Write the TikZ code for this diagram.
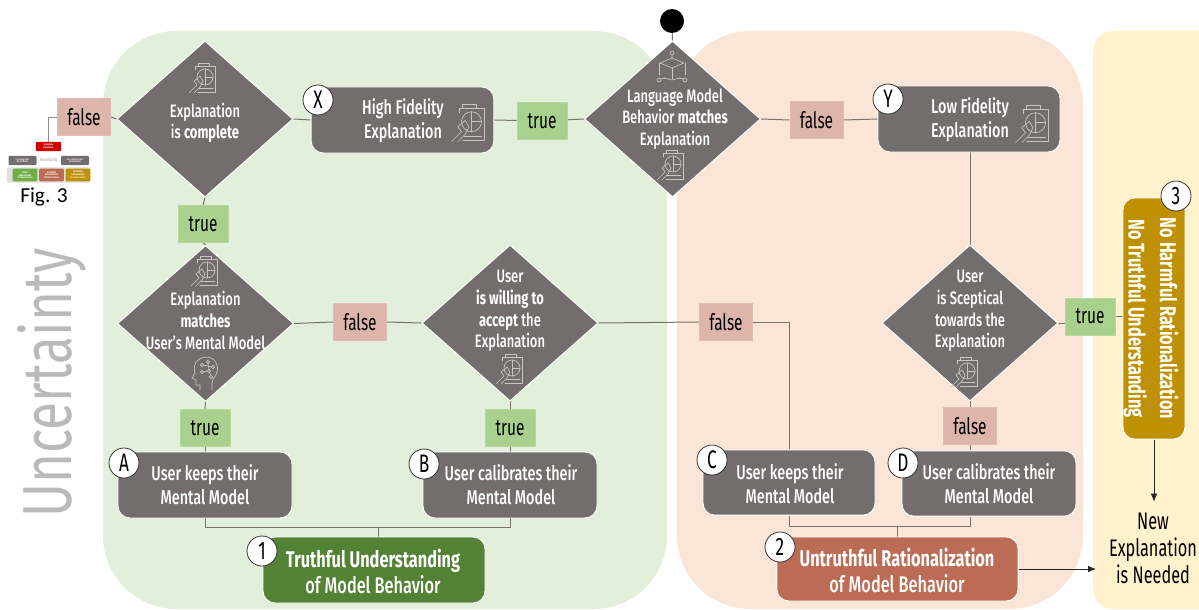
\documentclass[tikz,border=0pt]{standalone}
\usepackage{fontspec}
\setmainfont[FakeStretch=0.72,UprightFont={* Medium},BoldFont={* Bold}]{Fira Sans}
\newfontfamily\figfont{Carlito}
\newfontfamily\tagfont[FakeStretch=0.68]{Fira Sans}
\newfontfamily\bigfont[FakeStretch=0.74]{Fira Sans}
\usetikzlibrary{shapes.geometric,arrows.meta,backgrounds}
\definecolor{greenpanel}{HTML}{E2EFDA}
\definecolor{orangepanel}{HTML}{FBE5D6}
\definecolor{yellowpanel}{HTML}{FFF2CC}
\definecolor{shapegrey}{HTML}{736E6D}
\definecolor{linegrey}{HTML}{77756C}
\definecolor{truefill}{HTML}{A9D18E}
\definecolor{falsefill}{HTML}{DDB5AB}
\definecolor{truthgreen}{HTML}{548235}
\definecolor{thumbgreen}{HTML}{70AD47}
\definecolor{untruth}{HTML}{BC6C55}
\definecolor{gold}{HTML}{BF9000}
\definecolor{iconline}{HTML}{C8C6C4}
\tikzset{
  decision/.style={shape=diamond,fill=shapegrey,draw=white,line width=0.7pt,inner sep=0pt,minimum width=132pt,minimum height=117pt},
  stepbox/.style={fill=shapegrey,draw=white,line width=0.7pt,rounded corners=9pt,inner sep=0pt},
  resultbox/.style={draw=white,line width=0.7pt,rounded corners=9pt,inner sep=0pt},
  txt/.style={text=white,align=center,inner sep=0pt,font=\fontsize{13.5}{16.2}\selectfont},
  boxtxt/.style={text=white,align=center,inner sep=0pt,font=\fontsize{15}{18}\selectfont},
  restxt/.style={text=white,align=center,inner sep=0pt,font=\fontsize{17}{20}\selectfont},
  tagtrue/.style={fill=truefill,draw=truefill!85!white,minimum width=37.5pt,minimum height=27.5pt,inner sep=0pt,font=\tagfont\fontsize{17}{18}\selectfont,text=black},
  tagfalse/.style={fill=falsefill,draw=falsefill!90!white,minimum width=40pt,minimum height=27.5pt,inner sep=0pt,font=\tagfont\fontsize{17}{18}\selectfont,text=black},
  badge/.style={circle,fill=white,draw=black!80,line width=0.6pt,minimum size=22.5pt,inner sep=0pt,font=\tagfont\fontsize{19}{20}\selectfont,text=black},
  conn/.style={draw=linegrey,line width=0.75pt},
  connarrow/.style={draw=black!85,line width=0.7pt,-{Latex[length=6pt,width=5pt]}},
  thumb/.style={rounded corners=0.8pt,inner sep=0pt,text=white,align=center,font=\fontsize{1.9}{2.2}\selectfont},
  clipicon/.pic={
    \begin{scope}[draw=iconline,line width=0.5pt,line cap=round,line join=round]
      \draw (-8,-8) -- (-8,-12) -- (12,-12) -- (12,14) -- (-5,14);
      \draw (-5,-15) rectangle (6,-12);
      \draw (2,-1) circle (8);
      \draw (2,-9) -- (2,-1) -- (10,-1);
      \draw (2,-1) -- (2,7);
      \draw (-14,15) -- (-6,7) -- (-9,3) -- (-3,-2) -- (0,3) -- (-3,9) -- (-9,15);
      \draw (-4,10.5) -- (10,10.5);
    \end{scope}
  },
  cubeicon/.pic={
    \begin{scope}[draw=iconline,line width=0.5pt,line cap=round,line join=round]
      \draw (0,-13) circle (2) (0,-11) -- (0,-7);
      \draw (-12,-3) -- (0,-8) -- (12,-3) -- (0,2) -- cycle;
      \draw (-13,-3) -- (-13,9) (13,-3) -- (13,9) (0,2) -- (0,13);
      \draw (-8,12) -- (0,14) -- (8,12);
      \draw (-13,14) circle (2) (13,14) circle (2);
      \draw (-11.5,13) -- (-7,12) (11.5,13) -- (7,12);
    \end{scope}
  },
  brainicon/.pic={
    \begin{scope}[draw=iconline,line width=0.5pt,line cap=round,line join=round]
      \draw (-5,17) -- (-5,12) -- (-9,12) -- (-9,7) -- (-13,5) -- (-10,0)
        .. controls (-13,-10) and (-6,-16) .. (1,-16)
        .. controls (10,-16) and (14,-8) .. (12,-1)
        .. controls (11,4) and (7,6) .. (7,10) -- (7,17);
      \draw (-3,-8) circle (1.6) (3,-11) circle (1.6) (8,-6) circle (1.6) (-3,-1) circle (1.6) (4,-2) circle (1.6) (6,4) circle (1.6);
      \draw (-1.5,-8) -- (6.5,-6) (3,-9.5) -- (4,-3.5) (-1.5,-1) -- (2.5,-2) (4.5,-0.5) -- (6,2.5);
    \end{scope}
  }
}
\begin{document}
\begin{tikzpicture}[x=0.75pt,y=-0.75pt]
\useasboundingbox (0,0) rectangle (1199,610);
% panels
\begin{scope}[on background layer]
  \fill[greenpanel] (103,31) [rounded corners=55pt] -- (667,31) -- (667,609) -- (103,609) -- cycle;
  \fill[orangepanel] (677,31) [rounded corners=55pt] -- (1083,31) -- (1083,609) -- (677,609) -- cycle;
  \fill[yellowpanel,rounded corners=15pt] (1093,31) -- (1230,31) -- (1230,609) -- (1093,609) -- cycle;
\end{scope}
% start
\node[circle,fill=black,minimum size=18pt,inner sep=0pt] (start) at (672,21) {};
% decisions
\node[decision] (d1) at (205,119) {};
\node[decision] (d2) at (672.5,119) {};
\node[decision] (d3) at (205.5,323.5) {};
\node[decision] (d4) at (510,323) {};
\node[decision] (d5) at (970,323) {};
\node[txt] (t1) at (205,123) {Explanation\\is \textbf{complete}};
\node[txt] (t2) at (675,119) {Language Model\\Behavior \textbf{matches}\\Explanation};
\node[txt] (t3) at (205.5,320.5) {Explanation\\\textbf{matches}\\User's Mental Model};
\node[txt] (t4) at (510,311) {User\\\textbf{is willing to}\\\textbf{accept} the\\Explanation};
\node[txt] (t5) at (970,311) {User\\is Sceptical\\towards the\\Explanation};
% steps
\node[stepbox,minimum width=137pt,minimum height=49.5pt] (x) at (402.5,120) {};
\node[stepbox,minimum width=136.5pt,minimum height=49.5pt] (y) at (969,119) {};
\node[stepbox,minimum width=130.5pt,minimum height=49.5pt] (a) at (205,485) {};
\node[stepbox,minimum width=130.5pt,minimum height=49.5pt] (b) at (510,485) {};
\node[stepbox,minimum width=129pt,minimum height=49pt] (c) at (789,482.5) {};
\node[stepbox,minimum width=130.5pt,minimum height=49pt] (dd) at (989,483.5) {};
\node[boxtxt] (tx) at (403,120.5) {High Fidelity\\Explanation};
\node[boxtxt] (ty) at (970,119.5) {Low Fidelity\\Explanation};
\node[boxtxt] (ta) at (205,485) {User keeps their\\Mental Model};
\node[boxtxt] (tb) at (511,485) {User calibrates their\\Mental Model};
\node[boxtxt] (tc) at (790,483.5) {User keeps their\\Mental Model};
\node[boxtxt] (td) at (989,484) {User calibrates their\\Mental Model};
% results
\node[resultbox,fill=truthgreen,minimum width=166.5pt,minimum height=49.5pt] (r1) at (374,570) {};
\node[resultbox,fill=untruth,minimum width=181pt,minimum height=48pt] (r2) at (897.5,569) {};
\node[resultbox,fill=gold,minimum width=46.5pt,minimum height=181pt] (r3) at (1154,318.5) {};
\node[restxt] (tr1) at (373,571.5) {\textbf{Truthful Understanding}\\of Model Behavior};
\node[restxt] (tr2) at (897,570.5) {\textbf{Untruthful Rationalization}\\of Model Behavior};
\node[restxt,rotate=-90,font=\bfseries\fontsize{17}{23.5}\selectfont] (tr3) at (1151,318.5) {No Harmful Rationalization\\No Truthful Understanding};
% tags
\node[tagfalse] (f1) at (84,117) {false};
\node[tagtrue] (t01) at (203,224) {true};
\node[tagtrue] (t02) at (542,121) {true};
\node[tagfalse] (f2) at (816.5,120) {false};
\node[tagfalse] (f3) at (360,322) {false};
\node[tagtrue] (t03) at (205,428) {true};
\node[tagtrue] (t04) at (510,428) {true};
\node[tagfalse] (f4) at (726,322) {false};
\node[tagtrue] (t05) at (1090,316.5) {true};
\node[tagfalse] (f5) at (970,426) {false};
% badges
\node[badge] (bx) at (318,100) {X};
\node[badge] (by) at (888,99) {Y};
\node[badge] (ba) at (124,463) {A};
\node[badge] (bb) at (424,464) {B};
\node[badge] (bc) at (712,460) {C};
\node[badge] (bd) at (903,463) {D};
\node[badge] (b1) at (262,551) {1};
\node[badge] (b2) at (780,547) {2};
\node[badge] (b3) at (1176,196) {3};
% icons
\pic at (203,78) {clipicon};
\pic at (671,165) {clipicon};
\pic at (672,66) {cubeicon};
\pic at (205,271) {clipicon};
\pic at (205,373) {brainicon};
\pic at (510,369) {clipicon};
\pic at (965,372) {clipicon};
\pic[scale=1.25] at (469,123) {clipicon};
\pic[scale=1.25] at (1033,124) {clipicon};
% free text
\node[inner sep=0pt,text=black,align=center,font=\tagfont\fontsize{18}{20.2}\selectfont] (newx) at (1153,548) {New\\Explanation\\is Needed};
\node[inner sep=0pt,text=black!27,rotate=90,font=\bigfont\fontsize{52}{52}\selectfont] (unc) at (52,383) {Uncertainty};
\node[inner sep=0pt,text=black,font=\figfont\fontsize{16}{17}\selectfont] (figl) at (44,197) {Fig. 3};
% thumbnail
\node[thumb,fill=black!12,draw=black!12,minimum width=62pt,minimum height=11pt] (tpanel) at (48.5,175) {};
\node[thumb,fill=red!80!black,minimum width=19pt,minimum height=7pt] (tred) at (48.5,146.5) {\textbf{Incomplete}\\\textbf{Explanation}};
\node[thumb,fill=shapegrey,minimum width=21pt,minimum height=7pt] (tg1) at (22.5,160.5) {User keeps their\\Mental Model};
\node[thumb,fill=shapegrey,minimum width=21pt,minimum height=7pt] (tg2) at (75,160.5) {User calibrates their\\Mental Model};
\node[inner sep=0pt,text=black!30,font=\fontsize{3.5}{4}\selectfont] (tunc) at (49,160.5) {Uncertainty};
\node[thumb,fill=thumbgreen,minimum width=18.5pt,minimum height=9.5pt] (tr) at (25,175) {\textbf{Partial}\\\textbf{Understanding}\\of Model Behavior};
\node[thumb,fill=untruth,minimum width=18.5pt,minimum height=9.5pt] (to) at (51.5,175) {\textbf{Untruthful}\\\textbf{Rationalization}\\of Model Behavior};
\node[thumb,fill=gold,minimum width=18.5pt,minimum height=9.5pt] (ty2) at (78,175) {\textbf{No Harmful}\\\textbf{Rationalization}\\No Understanding};
% connectors
\begin{scope}[on background layer]
  \draw[conn] (start) -- (d2.north);
  \draw[conn] (d2.west) -- (t02) -- (x.east);
  \draw[conn] (x.west) -- (d1.east);
  \draw[conn] (d1.west) -- (f1.east);
  \draw[conn,draw=black!45] (f1.west) -| (tred.north);
  \draw[conn] (d1.south) -- (t01.north);
  \draw[conn] (t01.south) -- (d3.north);
  \draw[conn] (d3.south) -- (t03.north);
  \draw[conn] (t03.south) -- (a.north);
  \draw[conn] (d3.east) -- (f3.west);
  \draw[conn] (f3.east) -- (d4.west);
  \draw[conn] (d4.south) -- (t04.north);
  \draw[conn] (t04.south) -- (b.north);
  \draw[conn] (d4.east) -- (f4.west);
  \draw[conn] (f4.east) -| (c.north);
  \draw[conn] (d2.east) -- (f2.west);
  \draw[conn] (f2.east) -- (y.west);
  \draw[conn] (d5.north |- y.south) -- (d5.north);
  \draw[conn] (d5.south) -- (f5.north);
  \draw[conn] (f5.south) -- (dd.north -| f5.south);
  \draw[conn] (d5.east) -- (d5.east -| t05.west);
  \draw[conn] (t05.east) -- (t05.east -| r3.west);
  \draw[conn] (a.south) |- ++(0,9) -| (b.south);
  \draw[conn] ([xshift=3pt]r1.north) -- ++(0,-10);
  \draw[conn] (c.south) |- ++(0,11) -| (dd.south -| f5.south);
  \draw[conn] (r2.north) -- ++(0,-11);
\end{scope}
\coordinate (arrowend) at ([yshift=8pt]r3.south |- newx.north);
\draw[connarrow] (r3.south) -- (arrowend);
\draw[connarrow] (r2.east) -- (1096,569);
\end{tikzpicture}
\end{document}
